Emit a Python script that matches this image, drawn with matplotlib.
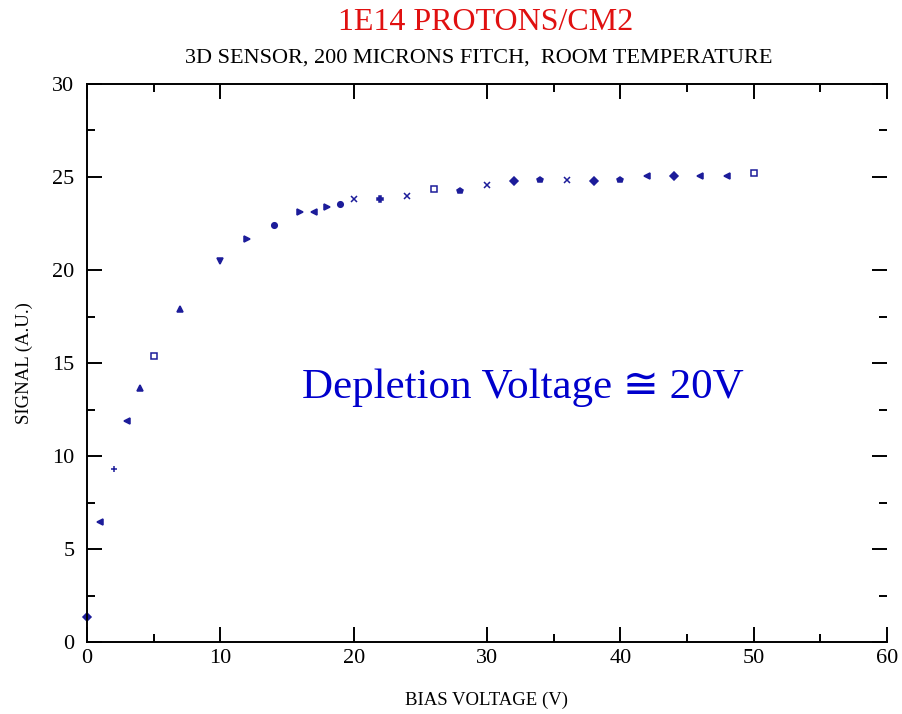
import matplotlib
matplotlib.use("Agg")
import matplotlib.pyplot as plt
from matplotlib.ticker import FixedLocator

plt.rcParams['font.family'] = ['Liberation Serif', 'DejaVu Sans']

# data
bias_v = [0, 1, 2, 3, 4, 5, 7, 10, 12, 14, 16, 17, 18, 19, 20, 22, 24, 26, 28,
          30, 32, 34, 36, 38, 40, 42, 44, 46, 48, 50]
signal = [1.34, 6.45, 9.3, 11.9, 13.66, 15.38, 17.9, 20.5, 21.67, 22.4, 23.14,
          23.14, 23.4, 23.55, 23.82, 23.82, 23.98, 24.35, 24.25, 24.57, 24.78,
          24.84, 24.84, 24.78, 24.84, 25.05, 25.05, 25.05, 25.05, 25.2]
markers = ['D', '<', '+', '<', '^', 's', '^', 'v', '>', 'o', '>', '<', '>', 'o', 'x',
           'P', 'x', 's', 'p', 'x', 'D', 'p', 'x', 'D', 'p', '<', 'D', '<', '<', 's']

x_major = [0, 10, 20, 30, 40, 50, 60]
x_minor = [5, 35, 45, 55]
y_major = [0, 5, 10, 15, 20, 25, 30]
y_minor = [2.5, 7.5, 12.5, 17.5, 27.5]

fig = plt.figure(figsize=(9.03, 7.14), dpi=100)
ax = fig.add_axes([87 / 903, 72 / 714, 800 / 903, 558 / 714])

for xv, yv, m in zip(bias_v, signal, markers):
    ax.plot(xv, yv, marker=m, color='#1c1c9a', ms=4, mew=1.1,
            mfc='#1c1c9a' if m in ('D', '<', '>', '^', 'v', 'o', 'P', 'p') else 'none',
            linestyle='none', clip_on=False)

ax.set_xlim(0, 60)
ax.set_ylim(0, 30)

ax.xaxis.set_major_locator(FixedLocator(x_major))
ax.xaxis.set_minor_locator(FixedLocator(x_minor))
ax.yaxis.set_major_locator(FixedLocator(y_major))
ax.yaxis.set_minor_locator(FixedLocator(y_minor))

ax.tick_params(axis='both', which='major', direction='in', length=11, width=1.4,
               labelsize=16, top=True, right=True, pad=5)
ax.tick_params(axis='both', which='minor', direction='in', length=6, width=1.4,
               top=True, right=True)
ax.tick_params(axis='y', which='major', pad=9)

# tick marks missing in the original at 20 and 25 on the y axis
for t in ax.yaxis.get_major_ticks():
    if t.get_loc() in (20, 25):
        t.tick1line.set_visible(False)
        t.tick2line.set_visible(False)

for s in ('left', 'bottom', 'top'):
    ax.spines[s].set_linewidth(1.4)
ax.spines['right'].set_visible(False)

ax.set_xlabel('BIAS VOLTAGE (V)', fontsize=13.5, labelpad=17)
ax.set_ylabel('SIGNAL (A.U.)', fontsize=13.5, labelpad=14)

fig.text(0.538, 0.969, '1E14 PROTONS/CM2', color='#e01010', fontsize=23,
         ha='center', va='center')
fig.text(0.53, 0.919, '3D SENSOR, 200 MICRONS FITCH,  ROOM TEMPERATURE',
         fontsize=16, ha='center', va='center')

ax.text(0.545, 0.455, 'Depletion Voltage \u2245 20V', transform=ax.transAxes,
        color='#0000cc', fontsize=31, ha='center', va='center')

fig.savefig('out.png', dpi=100)
